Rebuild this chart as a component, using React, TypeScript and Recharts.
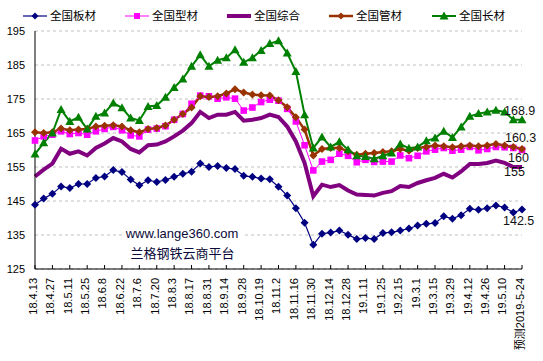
import { LineChart, Line, XAxis, YAxis, CartesianGrid } from "recharts";

// weekly dates, the last one is the forecast
const dates = [
  "18.4.13", "18.4.20", "18.4.27", "18.5.4", "18.5.11", "18.5.18", "18.5.25", "18.6.1",
  "18.6.8", "18.6.15", "18.6.22", "18.6.29", "18.7.6", "18.7.13", "18.7.20", "18.7.27",
  "18.8.3", "18.8.10", "18.8.17", "18.8.24", "18.8.31", "18.9.7", "18.9.14", "18.9.21",
  "18.9.28", "18.10.12", "18.10.19", "18.10.26", "18.11.2", "18.11.9", "18.11.16", "18.11.23",
  "18.11.30", "18.12.7", "18.12.14", "18.12.21", "18.12.28", "19.1.4", "19.1.11", "19.1.18",
  "19.1.25", "19.2.1", "19.2.15", "19.2.22", "19.3.1", "19.3.8", "19.3.15", "19.3.22",
  "19.3.29", "19.4.5", "19.4.12", "19.4.19", "19.4.26", "19.5.3", "19.5.10", "19.5.17",
  "预测2019-5-24",
];

const banCai = [
  143.9, 145.7, 147.1, 149.3, 148.8, 150, 150, 151.8, 152.2, 154.1, 153.5, 151.3, 149.6, 151.1,
  150.6, 151.2, 152.1, 153, 153.6, 156, 155, 155.3, 154.7, 154.4, 152.4, 152.1, 151.6, 151.4, 149.2,
  146.6, 142.9, 138.6, 132.1, 135.4, 135.7, 136.3, 135.1, 133.8, 134.1, 133.8, 135.6, 135.8, 136.3,
  136.9, 137.8, 138.3, 138.5, 140.5, 139.8, 140.8, 142.7, 142.4, 142.9, 143.7, 143.1, 141.6, 142.5,
];
const xingCai = [
  162.8, 164, 164.5, 165.5, 164.7, 165, 164.5, 165.5, 166.2, 166.8, 165.8, 164.3, 164, 166,
  166.3, 167, 168.9, 170.6, 173.6, 176, 175.8, 175.1, 175.5, 175.1, 171.6, 172.5, 174.1, 174.8, 174.5,
  172.1, 168.4, 161.4, 154, 156.6, 157.1, 158.9, 158.3, 156.4, 157.1, 156.5, 156.6, 156.6, 158.4,
  157.6, 158.3, 159.6, 160.1, 160.6, 159.8, 160.1, 160.9, 159.9, 160.3, 160.9, 160.8, 160.6, 160,
];
const zongHe = [
  152.2, 154.2, 156, 160.4, 158.9, 159.6, 158.4, 160.6, 161.9, 163.5, 162.5, 160.3, 159.3, 161.4,
  161.6, 162.5, 164, 165.7, 167.9, 171.2, 169.4, 170.4, 170.4, 171.2, 168.6, 168.9, 169.4, 170.4, 169.7,
  166.9, 162.5, 156.2, 146.4, 149.8, 149.1, 149.7, 148.1, 146.9, 146.8, 146.6, 147.4, 147.9, 149.4,
  149.1, 150.3, 151.1, 151.8, 153, 151.9, 153.7, 155.9, 155.9, 156.2, 156.9, 156.2, 155, 155,
];
const guanCai = [
  165.2, 165, 165.2, 166.3, 165.8, 166, 166.2, 166.9, 167.1, 167.3, 166.9, 165.8, 165.2, 166.2,
  166.5, 167.2, 168.9, 170.6, 172.5, 175.8, 175.6, 175.8, 176.6, 177.9, 176.9, 176.3, 176.1, 176, 174.6,
  172.6, 169.6, 166, 158.4, 160.3, 160.6, 160.6, 159.6, 158.6, 158.9, 159.1, 159.4, 159.6, 160.3,
  159.8, 160.6, 160.9, 161.3, 161.1, 160.8, 161.1, 161.3, 161.1, 161.3, 161.8, 161.3, 160.9, 160.3,
];
const changCai = [
  158.8, 162.1, 165, 171.9, 168.4, 169.6, 166.2, 169.9, 170.9, 173.8, 172.4, 169.4, 168.7, 172.8,
  173.1, 175.5, 178.4, 180.9, 184.6, 188, 184.6, 186.4, 187.1, 189.5, 185.8, 187.1, 189.3, 191.3, 192.1,
  188.5, 183.1, 170.4, 160.6, 163.8, 160.9, 162.4, 160.1, 158.3, 158.1, 157.4, 158.3, 159.1, 161.8,
  160.5, 160.9, 162.7, 163.5, 165.5, 163.7, 166.8, 169.9, 170.7, 171.2, 171.7, 171.2, 168.9, 168.9,
];

const yTicks = [125, 135, 145, 155, 165, 175, 185, 195];

const data = dates.map((d, i) => ({
  date: d,
  banCai: banCai[i],
  xingCai: xingCai[i],
  zongHe: zongHe[i],
  guanCai: guanCai[i],
  changCai: changCai[i],
}));

const last = dates.length - 1;
const FONT = "'Liberation Sans', Arial, 'Noto Sans CJK SC', sans-serif";
const CJK = "'Noto Sans CJK SC', 'Liberation Sans', sans-serif";

const diamond = (cx: number, cy: number, r: number) =>
  `M${cx},${cy - r}L${cx + r},${cy}L${cx},${cy + r}L${cx - r},${cy}Z`;
const triangle = (cx: number, cy: number) =>
  `M${cx},${cy - 4.5}L${cx + 4.5},${cy + 3.5}L${cx - 4.5},${cy + 3.5}Z`;

function dotFor(kind: string, color: string) {
  return (p: any) => {
    const { cx, cy, index } = p;
    if (cx == null || cy == null) return <g key={index} />;
    if (kind === "diamond") return <path key={index} d={diamond(cx, cy, 4)} fill={color} />;
    if (kind === "square")
      return <rect key={index} x={cx - 3.3} y={cy - 3.3} width={6.6} height={6.6} fill={color} />;
    if (kind === "triangle") return <path key={index} d={triangle(cx, cy)} fill={color} />;
    return <g key={index} />;
  };
}

// label only the forecast point
function endLabel(dx: number, dy: number, text: string) {
  return (p: any) => {
    if (p.index !== last) return null;
    return (
      <text key="end" x={p.x + dx} y={p.y + dy + 4.5} fontSize={12.5} fill="#111" fontFamily={FONT}>
        {text}
      </text>
    );
  };
}

function XTick(props: any) {
  const { x, y, payload } = props;
  return (
    <g>
      <line x1={x} x2={x} y1={y - 9} y2={y - 13} stroke="#000" />
      <text
        transform={`translate(${x - 2},${y}) rotate(-90)`}
        textAnchor="end"
        dy="0.35em"
        fontSize={11}
        fill="#000"
        fontFamily={FONT}
      >
        {payload.value}
      </text>
    </g>
  );
}

const legendItems = [
  { name: "全国板材", color: "#000080", x: 23, w: 1.2, marker: "diamond" },
  { name: "全国型材", color: "#ff00ff", x: 125, w: 1, marker: "square" },
  { name: "全国综合", color: "#800080", x: 227, w: 4, marker: "" },
  { name: "全国管材", color: "#993300", x: 329, w: 2.5, marker: "diamond" },
  { name: "全国长材", color: "#008000", x: 432, w: 2, marker: "triangle" },
];

export default function App() {
  return (
    <div style={{ position: "relative", width: 543, height: 361, fontFamily: FONT, background: "#fff" }}>
      <style>{"body{margin:0}"}</style>
      <LineChart width={543} height={361} data={data} margin={{ top: 31, right: 21, left: 0, bottom: 0 }}>
        <CartesianGrid vertical={false} stroke="#c0c0c0" strokeDasharray="3 3" />
        <XAxis
          dataKey="date"
          interval={1}
          height={92}
          tickLine={false}
          tickSize={0}
          tickMargin={9}
          axisLine={{ stroke: "#000" }}
          tick={<XTick />}
        />
        <YAxis
          domain={[125, 195]}
          ticks={yTicks}
          width={35}
          tickLine={false}
          tickSize={0}
          tickMargin={10}
          axisLine={{ stroke: "#000" }}
          tick={{ fontSize: 11, fill: "#000" }}
        />
        <Line
          dataKey="banCai"
          stroke="#000080"
          strokeWidth={1.2}
          dot={dotFor("diamond", "#000080")}
          label={endLabel(-19, 10.7, "142.5")}
          isAnimationActive={false}
        />
        <Line
          dataKey="xingCai"
          stroke="#ff00ff"
          strokeWidth={1}
          dot={dotFor("square", "#ff00ff")}
          label={endLabel(-14, 7.3, "160")}
          isAnimationActive={false}
        />
        <Line
          dataKey="zongHe"
          stroke="#800080"
          strokeWidth={4}
          dot={false}
          label={endLabel(-18, 4.4, "155")}
          isAnimationActive={false}
        />
        <Line
          dataKey="guanCai"
          stroke="#993300"
          strokeWidth={2.5}
          dot={dotFor("diamond", "#993300")}
          label={endLabel(-17, -11.6, "160.3")}
          isAnimationActive={false}
        />
        <Line
          dataKey="changCai"
          stroke="#008000"
          strokeWidth={2}
          dot={dotFor("triangle", "#008000")}
          label={endLabel(-18, -9, "168.9")}
          isAnimationActive={false}
        />
      </LineChart>

      {/* legend + watermark drawn on top */}
      <svg width={543} height={361} style={{ position: "absolute", left: 0, top: 0, pointerEvents: "none" }}>
        {legendItems.map((it) => (
          <g key={it.name}>
            <line x1={it.x} x2={it.x + 24} y1={16} y2={16} stroke={it.color} strokeWidth={it.w} />
            {it.marker === "diamond" && <path d={diamond(it.x + 12, 16, 3.5)} fill={it.color} />}
            {it.marker === "square" && <rect x={it.x + 9} y={13} width={6} height={6} fill={it.color} />}
            {it.marker === "triangle" && <path d={triangle(it.x + 12, 16)} fill={it.color} />}
            <text x={it.x + 27} y={16} dy="0.36em" fontSize={11.5} fontFamily={CJK} fill="#000">
              {it.name}
            </text>
          </g>
        ))}
        <rect x={122} y={226} width={121} height={15} fill="#fff" />
        <text x={182} y={233} dy="0.36em" textAnchor="middle" fontSize={13} fontFamily={FONT} fill="#0a0a3a">
          www.lange360.com
        </text>
        <text x={182.5} y={253} dy="0.36em" textAnchor="middle" fontSize={13} fontFamily={CJK} fill="#0a0a3a">
          兰格钢铁云商平台
        </text>
      </svg>
    </div>
  );
}
